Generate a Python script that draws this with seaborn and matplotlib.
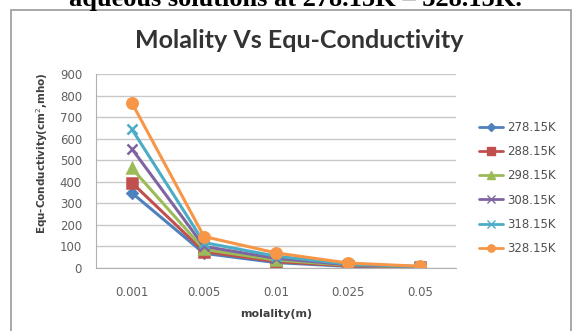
import matplotlib
matplotlib.use("Agg")
import matplotlib.pyplot as plt
import seaborn as sns
import pandas as pd
from matplotlib.patches import Rectangle
from matplotlib.lines import Line2D

molality = ["0.001", "0.005", "0.01", "0.025", "0.05"]
temps = ["278.15K", "288.15K", "298.15K", "308.15K", "318.15K", "328.15K"]
v278 = [348, 68, 25, 8, 3]
v288 = [395, 76, 30, 10, 4]
v298 = [462, 86, 37, 13, 5]
v308 = [552, 100, 45, 15, 6]
v318 = [643, 118, 55, 18, 7]
v328 = [765, 146, 70, 23, 8]
yticks = [0, 100, 200, 300, 400, 500, 600, 700, 800, 900]

series = [v278, v288, v298, v308, v318, v328]
rows = []
for t, vals in zip(temps, series):
    for m, v in zip(molality, vals):
        rows.append({"molality": m, "value": v, "temp": t})
df = pd.DataFrame(rows)

colors = ["#4F81BD", "#C0504D", "#9BBB59", "#8064A2", "#4BACC6", "#F79646"]
markers = ["D", "s", "^", "x", "x", "o"]
msizes = [5.5, 7.5, 7.5, 7.5, 7.5, 7.5]

sns.set_style("white")
fig = plt.figure(figsize=(5.74, 3.31), dpi=100)
fig.patch.set_facecolor("white")

# outer chart border
fig.patches.append(Rectangle((11/574, -0.05), 560/574, 1 - 10/331 + 0.05,
                             transform=fig.transFigure, fill=False,
                             edgecolor="#9a9a9a", linewidth=1.2))

ax = fig.add_axes([96/574, 1 - 268/331, 360/574, 194/331])
ax.set_facecolor("white")

for t, c, m, ms in zip(temps, colors, markers, msizes):
    sub = df[df["temp"] == t]
    sns.lineplot(data=sub, x="molality", y="value", color=c, marker=m,
                 markersize=ms, markerfacecolor=c, markeredgecolor=c,
                 markeredgewidth=1.8, linewidth=2.2, sort=False, ax=ax,
                 legend=False)

ax.set_xlim(-0.5, 4.5)
ax.set_ylim(0, 900)
ax.set_yticks(yticks)
ax.set_yticklabels([str(v) for v in yticks])
ax.set_xticks(range(len(molality)))
ax.set_xticklabels(molality)
ax.yaxis.grid(True, color="#c8c8c8", linewidth=1.0)
ax.set_axisbelow(True)
for s in ["top", "right"]:
    ax.spines[s].set_visible(False)
ax.spines["left"].set_color("#b0b0b0")
ax.spines["bottom"].set_color("#b0b0b0")
ax.tick_params(axis="both", labelsize=8.5, colors="#606060", length=0)
ax.tick_params(axis="x", pad=13)
ax.tick_params(axis="y", pad=10)
ax.set_xticks([-0.5, 0.5, 1.5, 2.5, 3.5, 4.5], minor=True)
ax.tick_params(axis="x", which="minor", length=4, color="#b0b0b0", direction="out")

ax.set_xlabel("molality(m)", fontsize=8, fontweight="bold", color="#404040")
ax.xaxis.set_label_coords(0.5, -41/194)
ax.set_ylabel("Equ-Conductivity(cm$^2$,mho)", fontsize=7.5, fontweight="bold",
              color="#404040")
ax.yaxis.set_label_coords(-46/360, 115/194)

fig.text(299/574, 1 - 40/331, "Molality Vs Equ-Conductivity", fontsize=18,
         fontweight="bold", family=["Lato", "DejaVu Sans"], color="#333333",
         ha="center", va="center")

fig.text(295/574, 1 - 6/331, "aqueous solutions at 278.15K – 328.15K.",
         fontsize=19, fontweight="bold", family=["Liberation Serif", "DejaVu Serif"],
         color="black", ha="center", va="baseline")

handles = [Line2D([0], [0], color=c, marker=m, markersize=ms * 0.7,
                  markerfacecolor=c, markeredgecolor=c, linewidth=2.0)
           for c, m, ms in zip(colors, markers, msizes)]
fig.legend(handles, temps, loc="center left",
           bbox_to_anchor=(468/574, 1 - 188/331), frameon=False,
           fontsize=8.5, labelcolor="#505050", handlelength=2.1,
           handletextpad=0.3, labelspacing=0.95)

fig.savefig("out.png", dpi=100)
